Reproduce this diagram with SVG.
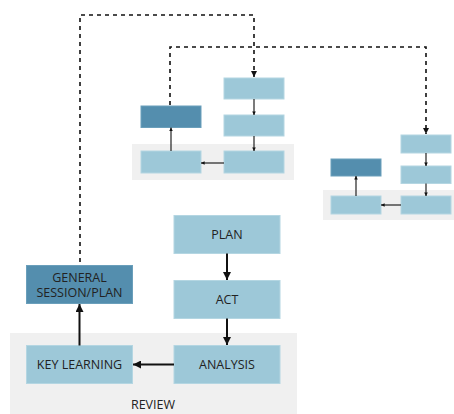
<svg xmlns="http://www.w3.org/2000/svg" width="454" height="414" viewBox="0 0 454 414">
  <style>
    .panel { fill: #f0f0f0; }
    .light { fill: #9dc8d8; stroke: #b4d6e2; stroke-width: 1; }
    .dark { fill: #548eae; stroke: #6a9fbb; stroke-width: 1; }
    .lbl { font-family: "Open Sans", "DejaVu Sans", sans-serif; font-size: 12.5px; fill: #222; text-anchor: middle; dominant-baseline: central; }
    .flow { stroke: #111; stroke-width: 2; fill: none; }
    .thin { stroke: #222; stroke-width: 1.2; fill: none; }
    .dash { stroke: #111; stroke-width: 1.6; fill: none; stroke-dasharray: 4 4; }
  </style>
  <defs>
    <marker id="head" viewBox="0 0 8 8" refX="8" refY="4" markerWidth="4" markerHeight="4" markerUnits="strokeWidth" orient="auto">
      <path d="M0,0 L8,4 L0,8 Z" fill="#111"/>
    </marker>
    <marker id="headSmall" viewBox="0 0 8 8" refX="8" refY="4" markerWidth="3" markerHeight="3" markerUnits="strokeWidth" orient="auto">
      <path d="M0,0 L8,4 L0,8 Z" fill="#111"/>
    </marker>
  </defs>

  <!-- background panels -->
  <rect class="panel" x="10" y="333" width="287" height="81"/>
  <rect class="panel" x="132" y="144" width="162" height="36"/>
  <rect class="panel" x="323" y="190" width="131" height="30"/>

  <!-- main cycle -->
  <g id="plan">
    <rect class="light" x="174" y="215.5" width="106" height="38"/>
    <text class="lbl" x="227" y="234.5">PLAN</text>
  </g>
  <g id="act">
    <rect class="light" x="174" y="280.5" width="106" height="38"/>
    <text class="lbl" x="227" y="299.5">ACT</text>
  </g>
  <g id="analysis">
    <rect class="light" x="174" y="345.5" width="106" height="38"/>
    <text class="lbl" x="227" y="364.5">ANALYSIS</text>
  </g>
  <g id="key-learning">
    <rect class="light" x="26.5" y="345.5" width="106" height="38"/>
    <text class="lbl" x="79.5" y="364.5">KEY LEARNING</text>
  </g>
  <g id="general-session">
    <rect class="dark" x="26.5" y="265.5" width="106" height="38"/>
    <text class="lbl" x="79.5" y="277">GENERAL</text>
    <text class="lbl" x="79.5" y="292.5">SESSION/PLAN</text>
  </g>
  <g id="review">
    <text class="lbl" x="153" y="404">REVIEW</text>
  </g>

  <!-- middle small cycle -->
  <g id="mid-plan"><rect class="light" x="224" y="78" width="60" height="21"/></g>
  <g id="mid-act"><rect class="light" x="224" y="115" width="60" height="21"/></g>
  <g id="mid-analysis"><rect class="light" x="224" y="151" width="60" height="22"/></g>
  <g id="mid-learning"><rect class="light" x="141" y="151" width="60" height="22"/></g>
  <g id="mid-general"><rect class="dark" x="141" y="106" width="60" height="21.5"/></g>

  <!-- right small cycle -->
  <g id="right-plan"><rect class="light" x="401" y="135" width="50" height="18"/></g>
  <g id="right-act"><rect class="light" x="401" y="166" width="50" height="17.5"/></g>
  <g id="right-analysis"><rect class="light" x="401" y="196" width="50" height="18"/></g>
  <g id="right-learning"><rect class="light" x="331" y="196" width="50" height="18"/></g>
  <g id="right-general"><rect class="dark" x="331" y="159" width="50" height="17"/></g>

  <!-- connectors -->
  <g id="connectors">
    <line class="flow" x1="227" y1="253.5" x2="227" y2="280" marker-end="url(#head)"/>
    <line class="flow" x1="227" y1="318.5" x2="227" y2="345" marker-end="url(#head)"/>
    <line class="flow" x1="174" y1="364.5" x2="133" y2="364.5" marker-end="url(#head)"/>
    <line class="flow" x1="79.5" y1="345.5" x2="79.5" y2="304" marker-end="url(#head)"/>

    <line class="thin" x1="254" y1="99" x2="254" y2="115" marker-end="url(#headSmall)"/>
    <line class="thin" x1="254" y1="136" x2="254" y2="151" marker-end="url(#headSmall)"/>
    <line class="thin" x1="224" y1="163" x2="201" y2="163" marker-end="url(#headSmall)"/>
    <line class="thin" x1="171" y1="151" x2="171" y2="127.5" marker-end="url(#headSmall)"/>

    <line class="thin" x1="426" y1="153" x2="426" y2="166" marker-end="url(#headSmall)"/>
    <line class="thin" x1="426" y1="183.5" x2="426" y2="196" marker-end="url(#headSmall)"/>
    <line class="thin" x1="401" y1="205" x2="381" y2="205" marker-end="url(#headSmall)"/>
    <line class="thin" x1="356" y1="196" x2="356" y2="176" marker-end="url(#headSmall)"/>

    <path class="dash" d="M80,262 V15 H254 V77" marker-end="url(#head)"/>
    <path class="dash" d="M170,105 V47 H426 V134" marker-end="url(#head)"/>
  </g>
</svg>
